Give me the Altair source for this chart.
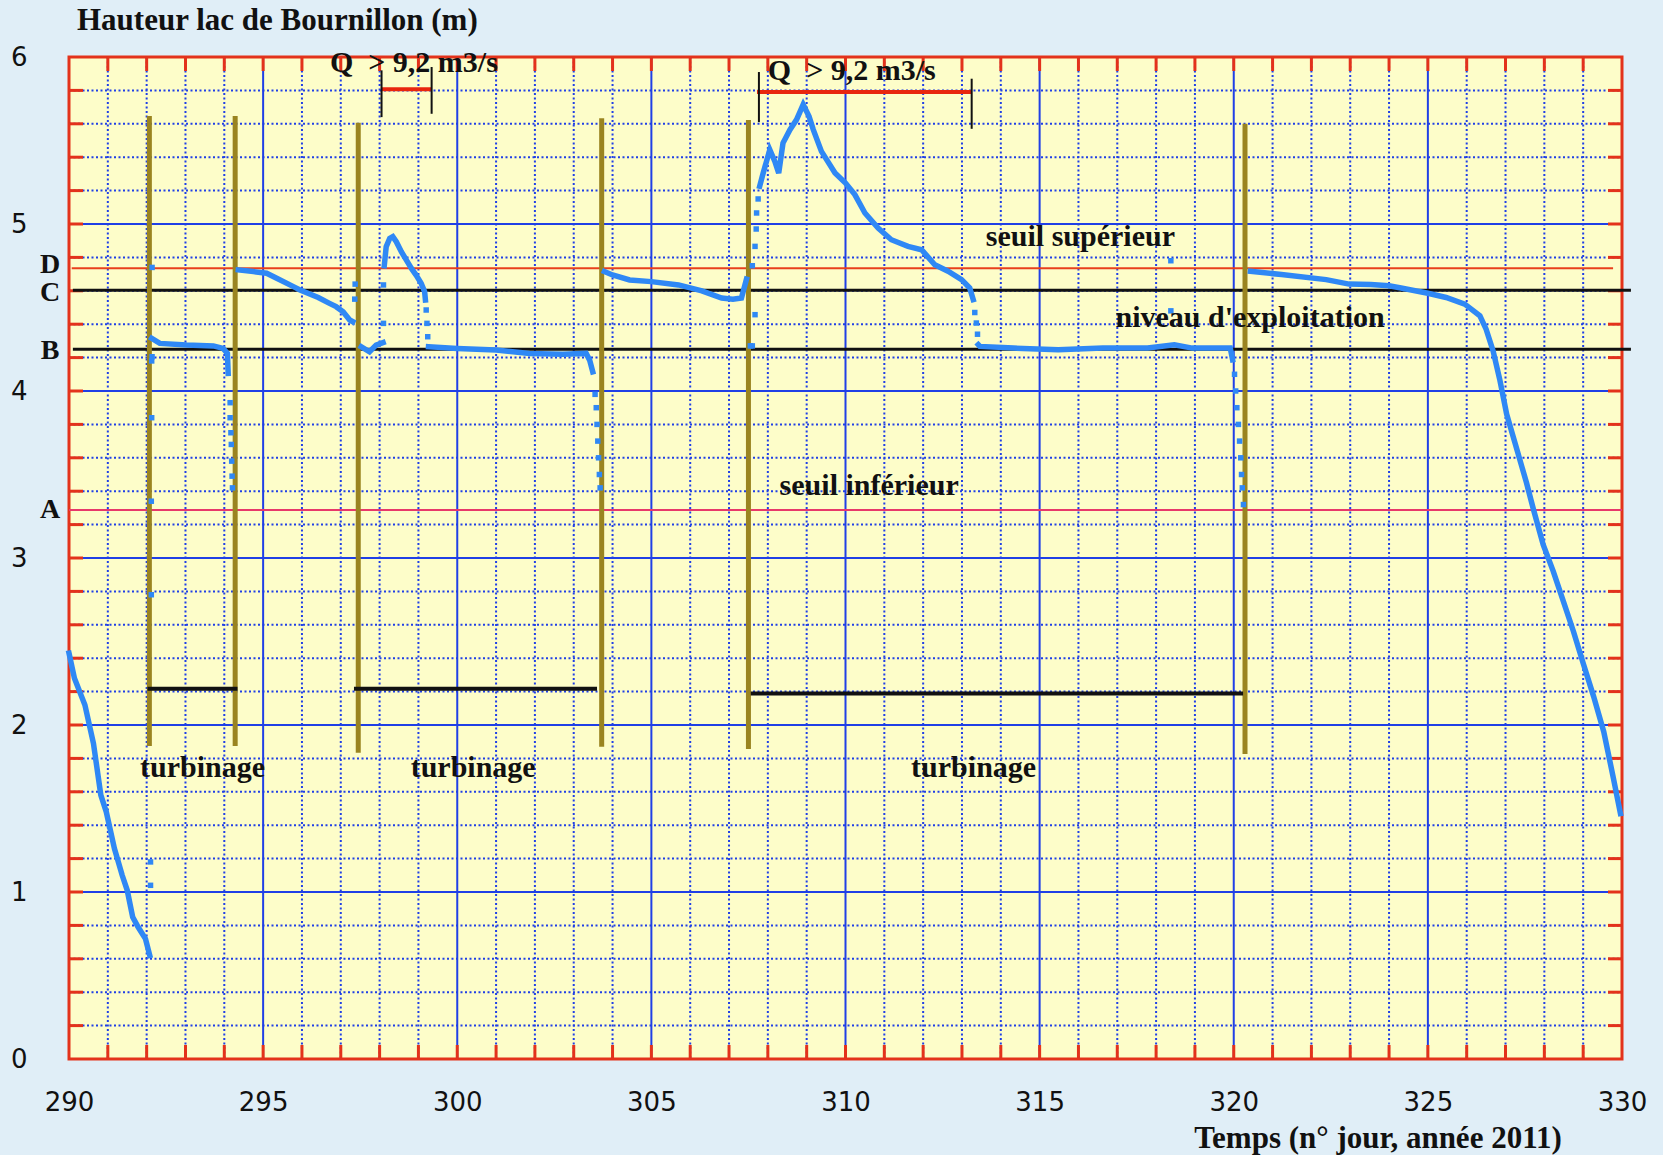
import altair as alt
import numpy as np
import pandas as pd

# ---------------------------------------------------------------------------
# Lake level (m) against day number of 2011 — continuous runs of the record
# ---------------------------------------------------------------------------
run1_day = [290.0, 290.14, 290.41, 290.63, 290.82, 290.96, 291.17, 291.37, 291.5,
            291.64, 291.78, 291.97, 292.08]
run1_h = [2.43, 2.28, 2.12, 1.89, 1.58, 1.48, 1.26, 1.10, 1.01, 0.85, 0.79, 0.72, 0.62]

run2_day = [292.13, 292.34, 293.03, 293.72, 293.97, 294.08, 294.1]
run2_h = [4.315, 4.285, 4.275, 4.27, 4.255, 4.225, 4.106]

run3_day = [294.36, 294.75, 295.09, 295.35, 295.78, 295.95, 296.42, 296.71, 296.88,
            297.06, 297.23, 297.31]
run3_h = [4.725, 4.715, 4.705, 4.675, 4.625, 4.605, 4.56, 4.525, 4.505, 4.475, 4.425, 4.415]

run4_day = [297.53, 297.74, 297.91, 298.09]
run4_h = [4.265, 4.235, 4.275, 4.29]

run5_day = [298.12, 298.17, 298.26, 298.34, 298.43, 298.56, 298.69, 298.82, 298.94,
            299.07, 299.16, 299.18]
run5_h = [4.75, 4.864, 4.914, 4.924, 4.894, 4.834, 4.784, 4.734, 4.694, 4.645, 4.595, 4.545]

run6_day = [299.26, 300.0, 301.0, 301.86, 302.72, 303.32, 303.41, 303.49]
run6_h = [4.265, 4.255, 4.245, 4.225, 4.22, 4.225, 4.185, 4.115]

run7_day = [303.79, 304.0, 304.44, 305.0, 305.7, 306.3, 306.81, 307.1, 307.32, 307.45]
run7_h = [4.715, 4.695, 4.665, 4.655, 4.635, 4.6, 4.557, 4.55, 4.557, 4.67]

run8_day = [307.79, 307.88, 308.05, 308.18, 308.28, 308.39, 308.57, 308.74, 308.91,
            309.06, 309.17, 309.38, 309.73, 310.0, 310.24, 310.5, 310.84, 311.18,
            311.61, 311.96, 312.3, 312.64, 312.99, 313.2, 313.29]
run8_h = [5.226, 5.305, 5.445, 5.375, 5.305, 5.485, 5.565, 5.625, 5.715, 5.645, 5.565,
          5.435, 5.305, 5.245, 5.176, 5.066, 4.976, 4.906, 4.866, 4.846, 4.756, 4.717,
          4.667, 4.617, 4.547]

run9_day = [313.42, 313.46, 314.33, 315.48, 316.63, 317.78, 318.47, 318.93, 319.91, 319.97]
run9_h = [4.277, 4.267, 4.257, 4.247, 4.257, 4.257, 4.277, 4.257, 4.257, 4.187]

run10_day = [320.43, 321.23, 322.38, 322.97, 323.53, 324.0, 324.31, 325.0, 325.47,
             325.95, 326.34, 326.5, 326.68, 326.85, 327.03, 327.28, 327.54, 327.72,
             327.97, 328.23, 328.49, 328.75, 329.0, 329.27, 329.53, 329.78, 329.96]
run10_h = [4.717, 4.697, 4.667, 4.64, 4.637, 4.63, 4.617, 4.585, 4.56, 4.52, 4.45, 4.37,
           4.24, 4.07, 3.86, 3.66, 3.45, 3.29, 3.08, 2.92, 2.74, 2.56, 2.37, 2.17, 1.96,
           1.68, 1.47]

# Sparse readings during the fast level changes
dot_day = [292.1, 292.1, 292.12, 292.12, 292.13, 292.13, 292.14, 292.14,
           294.15, 294.15, 294.17, 294.18, 294.19, 294.2, 294.21,
           297.36, 297.37, 298.1, 298.1,
           299.2, 299.22, 299.24,
           303.55, 303.58, 303.6, 303.62, 303.64, 303.66, 303.68,
           307.55, 307.6, 307.6, 307.67, 307.67, 307.7, 307.71, 307.75,
           313.33, 313.37, 313.4,
           318.38, 318.38,
           320.02, 320.05, 320.08, 320.12, 320.15, 320.18, 320.2, 320.22, 320.25]
dot_h = [1.18, 1.04, 2.78, 3.34, 3.84, 4.18, 4.205, 4.74,
         3.93, 3.84, 3.75, 3.68, 3.58, 3.49, 3.42,
         4.55, 4.64, 4.405, 4.635,
         4.485, 4.405, 4.325,
         3.98, 3.9, 3.8, 3.7, 3.6, 3.5, 3.42,
         4.27, 4.27, 4.75, 4.457, 4.866, 4.97, 5.066, 5.15,
         4.47, 4.407, 4.34,
         4.78, 4.48,
         4.1, 4.0, 3.9, 3.8, 3.7, 3.6, 3.5, 3.42, 3.32]

# Reference levels A-D
level_name = ["D", "C", "B", "A"]
level_h = [4.735, 4.603, 4.25, 3.287]
level_start = [290.07, 290.1, 290.1, 290.0]
level_end = [329.77, 330.23, 330.23, 330.0]
level_color = ["#E8401C", "#111111", "#111111", "#E8386A"]
level_width = [2, 3, 3, 2]

# Turbine on/off switching (olive verticals) and operating periods
switch_day = [292.07, 294.28, 297.45, 303.72, 307.5, 320.29]
switch_top = [5.647, 5.647, 5.607, 5.633, 5.623, 5.6]
switch_bottom = [1.874, 1.874, 1.834, 1.87, 1.857, 1.826]

turb_start = [292.02, 297.34, 307.56]
turb_end = [294.34, 303.6, 320.24]
turb_h = [2.217, 2.217, 2.188]
turb_label_day = [293.44, 300.41, 313.3]
turb_label_h = [1.69, 1.69, 1.69]

# Periods of discharge above 9,2 m3/s
flood_start = [298.05, 307.72]
flood_end = [299.34, 313.25]
flood_h = [5.807, 5.79]
flood_tick_day = [298.05, 299.34, 307.77, 313.25]
flood_tick_top = [5.92, 5.94, 5.91, 5.87]
flood_tick_bottom = [5.64, 5.66, 5.61, 5.57]
flood_label_day = [296.72, 308.0]
flood_label_h = [5.91, 5.86]

# Threshold annotations
note_text = ["seuil supérieur", "niveau d'exploitation", "seuil inférieur"]
note_day = [316.05, 320.42, 310.61]
note_h = [4.87, 4.385, 3.38]

W, H = 1553, 1002
X_DOMAIN = [290, 330]
Y_DOMAIN = [0, 6]
SERIF = "Liberation Serif"
SANS = "DejaVu Sans"
BLUE_DATA = "#2F88F5"
GRID_BLUE = "#1F3FE6"
FRAME_RED = "#E3321B"
OLIVE = "#9A8420"
INK = "#111111"

xs = alt.Scale(domain=X_DOMAIN, nice=False, zero=False)
ys = alt.Scale(domain=Y_DOMAIN, nice=False, zero=False)

x_axis = alt.Axis(values=list(range(290, 331, 5)), grid=False, domain=False,
                  ticks=False, tickSize=0, labelFont=SANS, labelFontSize=26,
                  labelColor=INK, labelPadding=30, labelFlush=False,
                  labelOverlap=False)
y_axis = alt.Axis(values=list(range(0, 7)), grid=False, domain=False,
                  ticks=False, tickSize=0, labelFont=SANS, labelFontSize=26,
                  labelColor=INK, labelPadding=42, labelBaseline="middle",
                  labelFlush=False, labelOverlap=False)


def X(field):
    return alt.X(field, type="quantitative", scale=xs, axis=x_axis, title=None)


def Y(field):
    return alt.Y(field, type="quantitative", scale=ys, axis=y_axis, title=None)


# --- grid -----------------------------------------------------------------
days = np.arange(291, 330)
minor_days = pd.DataFrame({"d": [d for d in days if d % 5 != 0]})
major_days = pd.DataFrame({"d": [d for d in days if d % 5 == 0]})
levels = np.round(np.arange(0.2, 6.0, 0.2), 1)
minor_lv = pd.DataFrame({"v": [v for v in levels if abs(v - round(v)) > 1e-6]})
major_lv = pd.DataFrame({"v": [1.0, 2.0, 3.0, 4.0, 5.0]})

grid_minor_v = alt.Chart(minor_days).mark_rule(
    color=GRID_BLUE, strokeWidth=2, strokeDash=[2, 2.5]).encode(
    x=X("d"), y=alt.value(0), y2=alt.value(H))
grid_major_v = alt.Chart(major_days).mark_rule(color=GRID_BLUE, strokeWidth=2).encode(
    x=X("d"), y=alt.value(0), y2=alt.value(H))
grid_minor_h = alt.Chart(minor_lv).mark_rule(
    color=GRID_BLUE, strokeWidth=2, strokeDash=[2, 2.5]).encode(
    y=Y("v"), x=alt.value(0), x2=alt.value(W))
grid_major_h = alt.Chart(major_lv).mark_rule(color=GRID_BLUE, strokeWidth=2).encode(
    y=Y("v"), x=alt.value(0), x2=alt.value(W))

# --- red inner ticks on the frame -----------------------------------------
tick_days = pd.DataFrame({"d": np.arange(291, 330)})
tick_lv = pd.DataFrame({"v": levels})
TL = 14
ticks = [
    alt.Chart(tick_days).mark_rule(color=FRAME_RED, strokeWidth=3).encode(
        x=X("d"), y=alt.value(0), y2=alt.value(TL)),
    alt.Chart(tick_days).mark_rule(color=FRAME_RED, strokeWidth=3).encode(
        x=X("d"), y=alt.value(H - TL), y2=alt.value(H)),
    alt.Chart(tick_lv).mark_rule(color=FRAME_RED, strokeWidth=3).encode(
        y=Y("v"), x=alt.value(0), x2=alt.value(TL)),
    alt.Chart(tick_lv).mark_rule(color=FRAME_RED, strokeWidth=3).encode(
        y=Y("v"), x=alt.value(W - TL), x2=alt.value(W)),
]

# --- reference levels ------------------------------------------------------
lv_df = pd.DataFrame({"name": level_name, "h": level_h, "x0": level_start,
                      "x1": level_end, "c": level_color, "w": level_width})
level_lines = alt.Chart(lv_df).mark_rule(clip=False).encode(
    x=X("x0"), x2="x1", y=Y("h"),
    color=alt.Color("c:N", scale=None),
    strokeWidth=alt.StrokeWidth("w:Q", scale=None))

# letters beside the levels; D and C sit very close, so nudge them apart
letter_shift = {"D": -3, "C": 3, "B": 2, "A": 0}
level_letters = [
    alt.Chart(lv_df).transform_filter(f"datum.name == '{n}'").mark_text(
        font=SERIF, fontWeight="bold", fontSize=28, color=INK,
        align="center", baseline="middle", dy=s).encode(
        x=alt.value(-19), y=Y("h"), text="name:N")
    for n, s in letter_shift.items()
]

# --- turbine switching and operating periods -------------------------------
sw_df = pd.DataFrame({"d": switch_day, "top": switch_top, "bot": switch_bottom})
switch_lines = alt.Chart(sw_df).mark_rule(color=OLIVE, strokeWidth=5).encode(
    x=X("d"), y=Y("top"), y2="bot")

tb_df = pd.DataFrame({"x0": turb_start, "x1": turb_end, "h": turb_h})
turb_bars = alt.Chart(tb_df).mark_rule(color=INK, strokeWidth=4).encode(
    x=X("x0"), x2="x1", y=Y("h"))
tl_df = pd.DataFrame({"d": turb_label_day, "h": turb_label_h, "t": ["turbinage"] * 3})
turb_labels = alt.Chart(tl_df).mark_text(
    font=SERIF, fontWeight="bold", fontSize=30, color=INK,
    align="center", baseline="alphabetic").encode(x=X("d"), y=Y("h"), text="t:N")

# --- high discharge periods -----------------------------------------------
fl_df = pd.DataFrame({"x0": flood_start, "x1": flood_end, "h": flood_h})
flood_bars = alt.Chart(fl_df).mark_rule(color="#E8260E", strokeWidth=4).encode(
    x=X("x0"), x2="x1", y=Y("h"))
ft_df = pd.DataFrame({"d": flood_tick_day, "top": flood_tick_top, "bot": flood_tick_bottom})
flood_ticks = alt.Chart(ft_df).mark_rule(color=INK, strokeWidth=2).encode(
    x=X("d"), y=Y("top"), y2="bot")
flb_df = pd.DataFrame({"d": flood_label_day, "h": flood_label_h,
                       "t": ["Q\u00a0\u00a0> 9,2 m3/s"] * 2})
flood_labels = alt.Chart(flb_df).mark_text(
    font=SERIF, fontWeight="bold", fontSize=30, color=INK,
    align="left", baseline="alphabetic").encode(x=X("d"), y=Y("h"), text="t:N")

# --- lake level record -----------------------------------------------------
runs = [(run1_day, run1_h), (run2_day, run2_h), (run3_day, run3_h), (run4_day, run4_h),
        (run5_day, run5_h), (run6_day, run6_h), (run7_day, run7_h), (run8_day, run8_h),
        (run9_day, run9_h), (run10_day, run10_h)]
series = pd.concat(
    [pd.DataFrame({"day": d, "h": h, "run": i, "o": range(len(d))})
     for i, (d, h) in enumerate(runs)], ignore_index=True)
level_line = alt.Chart(series).mark_line(
    color=BLUE_DATA, strokeWidth=5.5, strokeCap="square", strokeJoin="miter").encode(
    x=X("day"), y=Y("h"), detail="run:N", order="o:Q")
dots = alt.Chart(pd.DataFrame({"day": dot_day, "h": dot_h})).mark_square(
    color=BLUE_DATA, size=30, opacity=1, filled=True).encode(x=X("day"), y=Y("h"))

# --- annotations -----------------------------------------------------------
nt_df = pd.DataFrame({"d": note_day, "h": note_h, "t": note_text})
notes = alt.Chart(nt_df).mark_text(
    font=SERIF, fontWeight="bold", fontSize=30, color=INK,
    align="center", baseline="alphabetic").encode(x=X("d"), y=Y("h"), text="t:N")

title_txt = alt.Chart(pd.DataFrame({"t": ["Hauteur lac de Bournillon (m)"]})).mark_text(
    font=SERIF, fontWeight="bold", fontSize=31, color=INK,
    align="left", baseline="alphabetic").encode(
    x=alt.value(8), y=alt.value(-27), text="t:N")
xtitle_txt = alt.Chart(pd.DataFrame({"t": ["Temps (n° jour, année 2011)"]})).mark_text(
    font=SERIF, fontWeight="bold", fontSize=31, color=INK,
    align="center", baseline="alphabetic").encode(
    x=alt.value(1309), y=alt.value(1091), text="t:N")

chart = alt.layer(
    grid_minor_v, grid_minor_h, grid_major_v, grid_major_h,
    *ticks,
    level_lines,
    switch_lines, turb_bars,
    flood_bars, flood_ticks,
    level_line, dots,
    *level_letters, turb_labels, flood_labels, notes,
    title_txt, xtitle_txt,
).properties(
    width=W, height=H,
    background="#E0EEF7",
    padding={"left": 69, "top": 57, "right": 41, "bottom": 96},
    autosize=alt.AutoSizeParams(type="none"),
).configure_view(
    fill="#FDFDC9", stroke=FRAME_RED, strokeWidth=3,
)

chart.save("out.html", embed_options={"renderer": "svg", "actions": False})
